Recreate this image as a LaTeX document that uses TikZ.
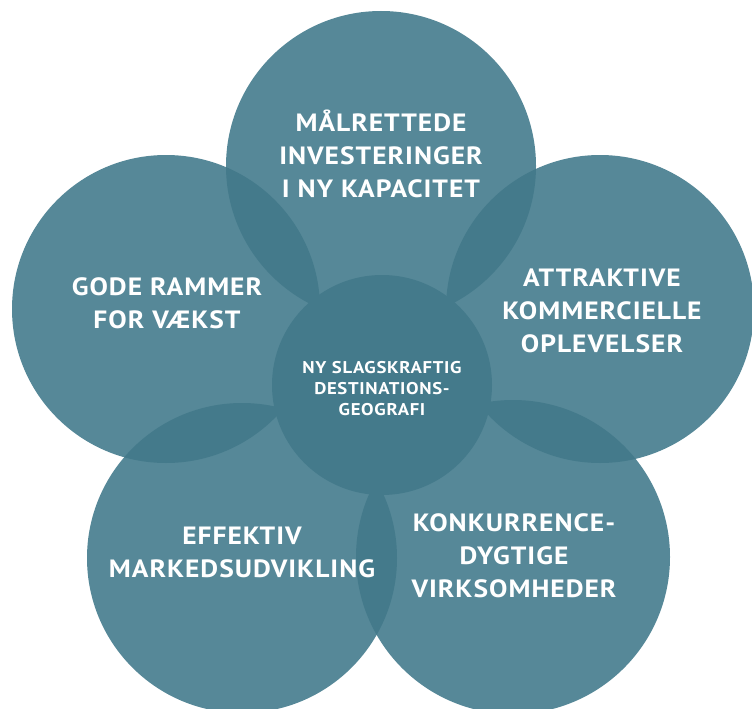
\documentclass[tikz,border=0pt]{standalone}
\usepackage{fontspec}
\setmainfont{PT Sans}[FakeStretch=1.1,LetterSpace=4]
\definecolor{petrol}{HTML}{568898}
\definecolor{petroldark}{HTML}{447A8B}
\begin{document}
\begin{tikzpicture}[x=1pt,y=-1pt,
  outer/.style={fill=petrol},
  lap/.style={fill=petroldark},
  biglabel/.style={text=white, align=center, inner sep=0pt,
    font=\fontsize{25}{33}\selectfont\bfseries},
  smalllabel/.style={text=white, align=center, inner sep=0pt,
    font=\fontsize{17}{21}\selectfont\bfseries}]
\useasboundingbox[fill=white] (0,0) rectangle (752,709);
\begin{scope}
\clip (0,0) rectangle (752,709);
\coordinate (cT) at (381,166);
\coordinate (cL) at (166,309);
\coordinate (cR) at (600,309);
\coordinate (cBL) at (242,558);
\coordinate (cBR) at (513,557);
\coordinate (cC) at (382,385);
% outer circles
\fill[outer] (cT) circle[radius=155pt];
\fill[outer] (cL) circle[radius=154pt];
\fill[outer] (cR) circle[radius=154pt];
\fill[outer] (cBL) circle[radius=155pt];
\fill[outer] (cBR) circle[radius=157pt];
% overlaps
\begin{scope}\clip (cT) circle[radius=155pt]; \fill[lap] (cL) circle[radius=154pt]; \fill[lap] (cR) circle[radius=154pt];\end{scope}
\begin{scope}\clip (cBL) circle[radius=155pt]; \fill[lap] (cL) circle[radius=154pt]; \fill[lap] (cBR) circle[radius=157pt];\end{scope}
\begin{scope}\clip (cBR) circle[radius=157pt]; \fill[lap] (cR) circle[radius=154pt];\end{scope}
% centre circle
\fill[lap] (cC) circle[radius=110pt];
\end{scope}
% labels
\node[biglabel] (tT) at (381,154) {MÅLRETTEDE\\INVESTERINGER\\I NY KAPACITET};
\node[biglabel] (tL) at (167,303) {GODE RAMMER\\FOR VÆKST};
\node[biglabel] (tR) at (602,311) {ATTRAKTIVE\\KOMMERCIELLE\\OPLEVELSER};
\node[smalllabel] (tC) at (382,389) {NY SLAGSKRAFTIG\\DESTINATIONS-\\GEOGRAFI};
\node[biglabel] (tBL) at (242,552) {EFFEKTIV\\MARKEDSUDVIKLING};
\node[biglabel] (tBR) at (514,556) {KONKURRENCE-\\DYGTIGE\\VIRKSOMHEDER};
\end{tikzpicture}
\end{document}
